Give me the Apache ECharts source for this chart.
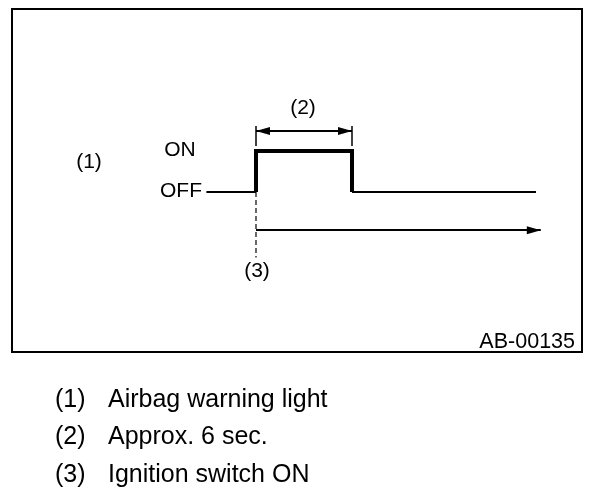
<!DOCTYPE html>
<html>
<head>
<meta charset="utf-8">
<style>
html,body{margin:0;padding:0;background:#fff;}
#c{width:608px;height:496px;}
</style>
<script src="https://cdn.jsdelivr.net/npm/echarts@6/dist/echarts.min.js"></script>
</head>
<body>
<div id="c"></div>
<script>
// time in seconds (0 = ignition switch ON), state: 0 = OFF, 1 = ON
const offBefore = [[-3.1, 0], [0, 0]];
const pulse = [[0, 0], [0, 1], [6, 1], [6, 0]];
const offAfter = [[6, 0], [17.5, 0]];
const timeArrow = [[0, -0.93], [17.8, -0.93]];
const durationArrow = [[0, 1.49], [6, 1.49]];
const durationTicks = [[[0, 1.12], [0, 1.61]], [[6, 1.12], [6, 1.61]]];
const ignitionDash = [[0, 0], [0, -1.6]];
// arrow tips: [time, level, direction]
const arrowTips = [[17.8, -0.93, 'right'], [0, 1.49, 'left'], [6, 1.49, 'right']];
const stateLabels = ['ON', 'OFF'];
const legendNums = ['(1)', '(2)', '(3)'];
const legendTexts = ['Airbag warning light', 'Approx. 6 sec.', 'Ignition switch ON'];
const figureCode = 'AB-00135';

const FONT = '"Liberation Sans", Arial, Helvetica, sans-serif';
const chart = echarts.init(document.getElementById('c'), null, {renderer: 'canvas'});

const txt = (x, y, s, size, align) => ({
  type: 'text', x: x, y: y,
  style: {text: s, font: size + 'px ' + FONT, fill: '#000', align: align || 'center', verticalAlign: 'middle'}
});

const graphics = [
  {type: 'rect', shape: {x: 12, y: 9, width: 570, height: 343},
   style: {fill: 'none', stroke: '#000', lineWidth: 2}},
  txt(89, 162, '(1)', 21),
  txt(180, 150, stateLabels[0], 21),
  txt(202, 191, stateLabels[1], 21, 'right'),
  txt(303, 108, '(2)', 21),
  txt(257, 271, '(3)', 21),
  txt(575, 342, figureCode, 21.5, 'right')
];
legendNums.forEach((n, i) => {
  graphics.push(txt(55, 400 + i * 37.5, n, 25, 'left'));
  graphics.push(txt(108, 400 + i * 37.5, legendTexts[i], 25, 'left'));
});

const HEAD_LEN = 14, HEAD_W = 8;
const thin = {color: '#000', width: 2, cap: 'butt'};
chart.setOption({
  animation: false,
  grid: {left: 16, right: 32, top: 28, bottom: 140, show: false},
  xAxis: {type: 'value', min: -15, max: 20, show: false},
  yAxis: {type: 'value', min: -4, max: 4, show: false},
  series: [
    {type: 'line', data: offBefore, showSymbol: false, lineStyle: thin, silent: true},
    {type: 'line', data: offAfter, showSymbol: false, lineStyle: thin, silent: true},
    {type: 'line', data: pulse, showSymbol: false, silent: true,
     lineStyle: {color: '#000', width: 4, join: 'miter', cap: 'butt'}},
    {type: 'line', data: ignitionDash, showSymbol: false, silent: true,
     lineStyle: {color: '#000', width: 1.2, type: [5, 3]}},
    {type: 'lines', coordinateSystem: 'cartesian2d', silent: true, symbol: 'none',
     lineStyle: {color: '#000', width: 2, opacity: 1, curveness: 0},
     data: [{coords: timeArrow}, {coords: durationArrow}]},
    {type: 'lines', coordinateSystem: 'cartesian2d', silent: true, symbol: 'none',
     lineStyle: {color: '#000', width: 1.5, opacity: 1, curveness: 0},
     data: durationTicks.map(c => ({coords: c}))},
    {type: 'scatter', silent: true,
     data: arrowTips.map(d => ({
       value: [d[0], d[1]],
       symbol: 'triangle',
       symbolSize: [HEAD_W, HEAD_LEN],
       symbolRotate: d[2] === 'right' ? -90 : 90,
       symbolOffset: [d[2] === 'right' ? -HEAD_LEN / 2 : HEAD_LEN / 2, 0]
     })),
     itemStyle: {color: '#000', opacity: 1}}
  ],
  graphic: graphics
});
</script>
</body>
</html>
